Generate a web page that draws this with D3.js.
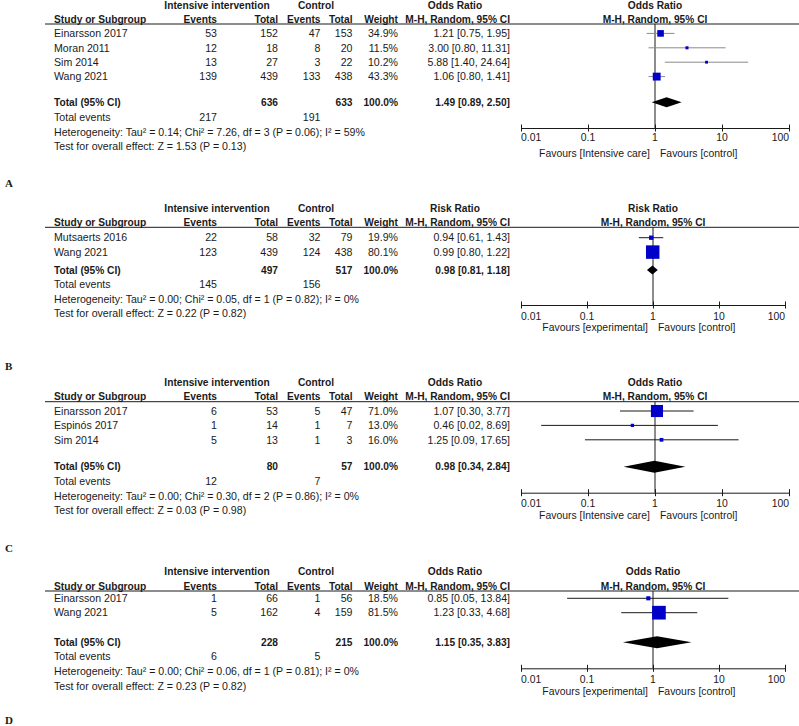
<!DOCTYPE html>
<html><head><meta charset="utf-8">
<script src="https://cdn.jsdelivr.net/npm/d3@7"></script>
<style>
body{margin:0;background:#fff;}
text{font-family:"Liberation Sans",Arial,sans-serif;fill:#1a1a1a;}
</style></head>
<body><svg id="c" width="799" height="726"></svg>
<script>
// ---------- DATA ----------
const panelLabels = ["A", "B", "C", "D"];
const measures = ["Odds Ratio", "Risk Ratio", "Odds Ratio", "Odds Ratio"];
const favLeft = ["Favours [Intensive care]", "Favours [experimental]", "Favours [Intensive care]", "Favours [experimental]"];
const favRight = ["Favours [control]", "Favours [control]", "Favours [control]", "Favours [control]"];
const tickValues = [0.01, 0.1, 1, 10, 100];
const tickLabels = ["0.01", "0.1", "1", "10", "100"];

const studiesA = ["Einarsson 2017", "Moran 2011", "Sim 2014", "Wang 2021"];
const expEventsA = [53, 12, 13, 139];
const expTotalA = [152, 18, 27, 439];
const ctlEventsA = [47, 8, 3, 133];
const ctlTotalA = [153, 20, 22, 438];
const weightA = [34.9, 11.5, 10.2, 43.3];
const estA = [1.21, 3.00, 5.88, 1.06];
const lowA = [0.75, 0.80, 1.40, 0.80];
const highA = [1.95, 11.31, 24.64, 1.41];
const pooledA = [1.49, 0.89, 2.50];
const totalsA = [636, 633];
const totalEventsA = [217, 191];
const hetA = "Heterogeneity: Tau² = 0.14; Chi² = 7.26, df = 3 (P = 0.06); I² = 59%";
const testA = "Test for overall effect: Z = 1.53 (P = 0.13)";

const studiesB = ["Mutsaerts 2016", "Wang 2021"];
const expEventsB = [22, 123];
const expTotalB = [58, 439];
const ctlEventsB = [32, 124];
const ctlTotalB = [79, 438];
const weightB = [19.9, 80.1];
const estB = [0.94, 0.99];
const lowB = [0.61, 0.80];
const highB = [1.43, 1.22];
const pooledB = [0.98, 0.81, 1.18];
const totalsB = [497, 517];
const totalEventsB = [145, 156];
const hetB = "Heterogeneity: Tau² = 0.00; Chi² = 0.05, df = 1 (P = 0.82); I² = 0%";
const testB = "Test for overall effect: Z = 0.22 (P = 0.82)";

const studiesC = ["Einarsson 2017", "Espinós 2017", "Sim 2014"];
const expEventsC = [6, 1, 5];
const expTotalC = [53, 14, 13];
const ctlEventsC = [5, 1, 1];
const ctlTotalC = [47, 7, 3];
const weightC = [71.0, 13.0, 16.0];
const estC = [1.07, 0.46, 1.25];
const lowC = [0.30, 0.02, 0.09];
const highC = [3.77, 8.69, 17.65];
const pooledC = [0.98, 0.34, 2.84];
const totalsC = [80, 57];
const totalEventsC = [12, 7];
const hetC = "Heterogeneity: Tau² = 0.00; Chi² = 0.30, df = 2 (P = 0.86); I² = 0%";
const testC = "Test for overall effect: Z = 0.03 (P = 0.98)";

const studiesD = ["Einarsson 2017", "Wang 2021"];
const expEventsD = [1, 5];
const expTotalD = [66, 162];
const ctlEventsD = [1, 4];
const ctlTotalD = [56, 159];
const weightD = [18.5, 81.5];
const estD = [0.85, 1.23];
const lowD = [0.05, 0.33];
const highD = [13.84, 4.68];
const pooledD = [1.15, 0.35, 3.83];
const totalsD = [228, 215];
const totalEventsD = [6, 5];
const hetD = "Heterogeneity: Tau² = 0.00; Chi² = 0.06, df = 1 (P = 0.81); I² = 0%";
const testD = "Test for overall effect: Z = 0.23 (P = 0.82)";

// ---------- LAYOUT (positions / styles) ----------
const layouts = [
  {h1:5, ch:19, rule:24, row0:33.4, total:102.3, te:117.3, het:132.3, test:146.7, axis:128, tick:137, fav:153, label:183, xr:789, dia:5, ci:"#8a8a8a"},
  {h1:208.3, ch:222.3, rule:227.3, row0:237.7, total:270, te:284.3, het:299, test:313.3, axis:305, tick:316, fav:327.3, label:366, xr:785, dia:4.6, ci:"#1a1a1a"},
  {h1:382.3, ch:396.7, rule:401.7, row0:411, total:466.7, te:481.7, het:496, test:510, axis:492.7, tick:503.3, fav:515.7, label:548, xr:789, dia:6, ci:"#1a1a1a"},
  {h1:571.7, ch:586.7, rule:591, row0:598.3, total:642.3, te:656.7, het:671.7, test:686, axis:668.3, tick:679, fav:691.7, label:720, xr:785, dia:6, ci:"#1a1a1a"}
];
const rowStep = 14.4;
const col = {study:54, expEv:217, expTot:278, ctlEv:320.5, ctlTot:352.5, weight:398, ci:510, ciHead:455, grpExp:217, grpCtl:316, ruleX0:45, plotX0:521};
const FS = 10.6, FSB = 10.2;
const boxColor = "#0000c8";

const panels = [
  {studies:studiesA, ee:expEventsA, et:expTotalA, ce:ctlEventsA, ct:ctlTotalA, w:weightA, est:estA, lo:lowA, hi:highA, pooled:pooledA, totals:totalsA, tev:totalEventsA, het:hetA, test:testA},
  {studies:studiesB, ee:expEventsB, et:expTotalB, ce:ctlEventsB, ct:ctlTotalB, w:weightB, est:estB, lo:lowB, hi:highB, pooled:pooledB, totals:totalsB, tev:totalEventsB, het:hetB, test:testB},
  {studies:studiesC, ee:expEventsC, et:expTotalC, ce:ctlEventsC, ct:ctlTotalC, w:weightC, est:estC, lo:lowC, hi:highC, pooled:pooledC, totals:totalsC, tev:totalEventsC, het:hetC, test:testC},
  {studies:studiesD, ee:expEventsD, et:expTotalD, ce:ctlEventsD, ct:ctlTotalD, w:weightD, est:estD, lo:lowD, hi:highD, pooled:pooledD, totals:totalsD, tev:totalEventsD, het:hetD, test:testD}
];

const svg = d3.select("#c");
const boxSize = d3.scaleLinear().domain([0, 100]).range([1.3, 16.5]);
const f2 = d3.format(".2f");
const f1 = d3.format(".1f");

function txt(g, x, y, s, anchor, bold, size, family) {
  const t = g.append("text").attr("x", x).attr("y", y).attr("dy", "0.35em")
    .attr("text-anchor", anchor || "start")
    .style("font-size", (size || (bold ? FSB : FS)) + "px")
    .style("font-weight", bold ? "bold" : "normal")
    .text(s);
  if (family) t.style("font-family", family);
  return t;
}

panels.forEach((p, pi) => {
  const L = layouts[pi];
  const g = svg.append("g");
  const x = d3.scaleLog().domain([0.01, 100]).range([col.plotX0, L.xr]);
  const rowY = i => L.row0 + i * rowStep;

  // headers
  txt(g, col.grpExp, L.h1, "Intensive intervention", "middle", true);
  txt(g, col.grpCtl, L.h1, "Control", "middle", true);
  txt(g, col.ciHead, L.h1, measures[pi], "middle", true);
  txt(g, x(1), L.h1, measures[pi], "middle", true);
  txt(g, col.study, L.ch, "Study or Subgroup", "start", true);
  txt(g, col.expEv, L.ch, "Events", "end", true);
  txt(g, col.expTot, L.ch, "Total", "end", true);
  txt(g, col.ctlEv, L.ch, "Events", "end", true);
  txt(g, col.ctlTot, L.ch, "Total", "end", true);
  txt(g, col.weight, L.ch, "Weight", "end", true);
  txt(g, col.ci, L.ch, "M-H, Random, 95% CI", "end", true);
  txt(g, x(1), L.ch, "M-H, Random, 95% CI", "middle", true);
  g.append("line").attr("x1", col.ruleX0).attr("x2", 799).attr("y1", L.rule).attr("y2", L.rule)
    .attr("stroke", "#1a1a1a").attr("stroke-width", 1);

  // study rows
  p.studies.forEach((s, i) => {
    const y = rowY(i);
    txt(g, col.study, y, s);
    txt(g, col.expEv, y, p.ee[i], "end");
    txt(g, col.expTot, y, p.et[i], "end");
    txt(g, col.ctlEv, y, p.ce[i], "end");
    txt(g, col.ctlTot, y, p.ct[i], "end");
    txt(g, col.weight, y, f1(p.w[i]) + "%", "end");
    txt(g, col.ci, y, `${f2(p.est[i])} [${f2(p.lo[i])}, ${f2(p.hi[i])}]`, "end");
  });

  // totals
  txt(g, col.study, L.total, "Total (95% CI)", "start", true);
  txt(g, col.expTot, L.total, p.totals[0], "end", true);
  txt(g, col.ctlTot, L.total, p.totals[1], "end", true);
  txt(g, col.weight, L.total, "100.0%", "end", true);
  txt(g, col.ci, L.total, `${f2(p.pooled[0])} [${f2(p.pooled[1])}, ${f2(p.pooled[2])}]`, "end", true);
  txt(g, col.study, L.te, "Total events");
  txt(g, col.expEv, L.te, p.tev[0], "end");
  txt(g, col.ctlEv, L.te, p.tev[1], "end");
  txt(g, col.study, L.het, p.het);
  txt(g, col.study, L.test, p.test);

  // vertical line of no effect
  g.append("line").attr("x1", x(1)).attr("x2", x(1)).attr("y1", L.rule).attr("y2", L.axis)
    .attr("stroke", "#1a1a1a").attr("stroke-width", 1);

  // CI lines and boxes
  p.studies.forEach((s, i) => {
    const y = rowY(i);
    g.append("line").attr("x1", x(p.lo[i])).attr("x2", x(p.hi[i])).attr("y1", y).attr("y2", y)
      .attr("stroke", L.ci).attr("stroke-width", 1);
    const b = boxSize(p.w[i]);
    g.append("rect").attr("x", x(p.est[i]) - b / 2).attr("y", y - b / 2)
      .attr("width", b).attr("height", b).attr("fill", boxColor);
  });

  // diamond
  const dy = L.total;
  g.append("path")
    .attr("d", `M${x(p.pooled[1])},${dy} L${x(p.pooled[0])},${dy - L.dia} L${x(p.pooled[2])},${dy} L${x(p.pooled[0])},${dy + L.dia} Z`)
    .attr("fill", "#000");

  // axis
  const axis = d3.axisBottom(x).tickValues(tickValues).tickSize(0).tickFormat("");
  const ag = g.append("g").attr("transform", `translate(0,${L.axis})`).call(axis);
  ag.select(".domain").attr("stroke", "#1a1a1a");
  ag.selectAll(".tick").append("line").attr("y1", -3.5).attr("y2", 3.5).attr("stroke", "#1a1a1a");
  tickValues.forEach((v, i) => {
    const anchor = i === 0 ? "start" : (i === tickValues.length - 1 ? "end" : "middle");
    txt(g, x(v), L.tick, tickLabels[i], anchor, false, 10.4);
  });
  txt(g, x(1) - 5, L.fav, favLeft[pi], "end", false, 10.4);
  txt(g, x(1) + 5, L.fav, favRight[pi], "start", false, 10.4);

  // panel label
  txt(g, 5, L.label, panelLabels[pi], "start", true, 11, "'Liberation Serif','Times New Roman',serif");
});
</script></body></html>
